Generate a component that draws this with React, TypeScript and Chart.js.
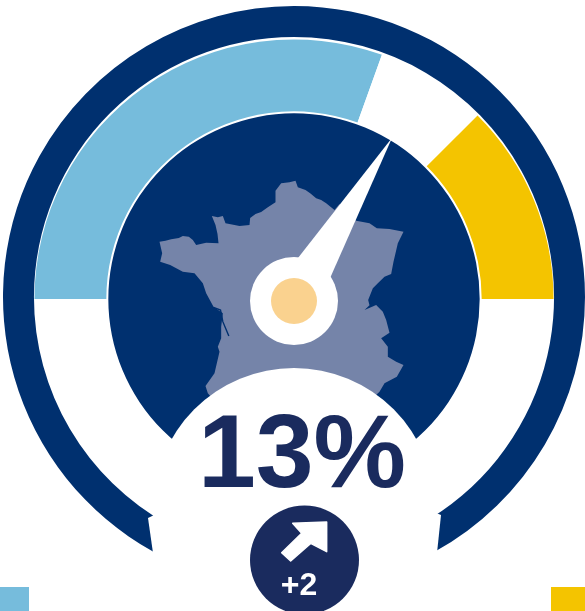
import React, { useEffect, useRef } from "react";
import { Chart, registerables } from "chart.js";

Chart.register(...registerables);

// Gauge values (share of the upper half-circle, left to right)
const bandLabels = ["Favorable", "Neutre", "Défavorable", "Bas"];
const bandValues = [61, 14, 25, 100];
const bandColors = ["#76BCDC", "#FFFFFF", "#F4C400", "rgba(0,0,0,0)"];
const needleShare = 67.4;
const headline = "13%";
const deltaLabel = "+2";

const NAVY = "#00306F";
const INK = "#1A2B5E";
const MAP = "#7584A9";

// France outline, traced in 1/3 px units relative to the illustration
const mapOutline: number[][] = [
  [60,335],[78,332],[95,328],[118,324],[130,318],[148,320],[160,330],[170,345],[200,338],[237,340],
  [234,312],[228,285],[217,258],[235,262],[250,258],[258,280],[285,285],[300,288],[330,285],[332,264],
  [348,252],[365,246],[385,232],[408,217],[408,182],[425,160],[450,157],[468,152],[475,172],[498,180],
  [512,190],[530,205],[545,210],[560,220],[585,240],[600,222],[625,250],[650,272],[690,280],[712,295],
  [750,297],[792,305],[775,340],[768,370],[762,395],[755,432],[735,440],[715,460],[700,475],[686,510],
  [690,526],[675,540],[710,525],[730,545],[740,570],[750,608],[725,625],[745,650],[745,680],[770,695],
  [792,705],[772,740],[735,760],[720,785],[600,900],[300,900],[205,790],[198,768],[225,730],[240,665],
  [235,650],[245,625],[245,590],[250,550],[222,530],[200,490],[190,460],[165,430],[130,425],[92,405],
  [62,395],[68,370],[60,335],
];
const estuary: number[][] = [[222,532],[243,540],[250,575],[268,618]];
const arrowShape: number[][] = [
  [68,40],[170,36],[170,125],[122,100],[62,153],[35,128],[95,70],
];

const ink = {
  id: "gaugeInk",
  beforeDatasetDraw(chart: any, args: any) {
    if (args.index === 0) {
      chart.ctx.save();
      chart.ctx.translate(0, -2);
    }
  },
  afterDatasetDraw(chart: any, args: any) {
    if (args.index === 0) chart.ctx.restore();
  },
  afterDatasetsDraw(chart: any) {
    const c = chart.ctx as CanvasRenderingContext2D;
    const disc = chart.getDatasetMeta(4).data[0];
    const cx: number = disc.x;
    const cy: number = disc.y;
    const path = (pts: number[][], ox: number, oy: number) => {
      c.beginPath();
      pts.forEach(([x, y], i) => {
        if (i === 0) c.moveTo(ox + x / 3, oy + y / 3);
        else c.lineTo(ox + x / 3, oy + y / 3);
      });
      c.closePath();
    };
    const circle = (x: number, y: number, r: number, col: string) => {
      c.beginPath();
      c.arc(x, y, r, 0, Math.PI * 2);
      c.fillStyle = col;
      c.fill();
    };
    c.save();

    // map
    path(mapOutline, cx - 154.5, cy - 169);
    c.fillStyle = MAP;
    c.fill();
    c.beginPath();
    estuary.forEach(([x, y], i) => {
      const px = cx - 154.5 + x / 3;
      const py = cy - 169 + y / 3;
      if (i === 0) c.moveTo(px, py);
      else c.lineTo(px, py);
    });
    c.strokeStyle = NAVY;
    c.lineWidth = 1.4;
    c.stroke();

    // needle
    const a = Math.PI * (1 - needleShare / 100);
    const tipR = disc.outerRadius + 3;
    const hx = cx;
    const hy = cy + 2;
    const tx = cx + Math.cos(a) * tipR;
    const ty = cy - Math.sin(a) * tipR;
    const nx = Math.sin(a);
    const ny = Math.cos(a);
    const base = 20;
    const mx = hx + Math.cos(a) * 30;
    const my = hy - Math.sin(a) * 30;
    c.beginPath();
    c.moveTo(tx, ty);
    c.lineTo(mx + nx * base, my + ny * base);
    c.lineTo(mx - nx * base, my - ny * base);
    c.closePath();
    c.fillStyle = "#FFFFFF";
    c.fill();
    circle(hx, hy, 44, "#FFFFFF");
    circle(hx, hy, 23, "#FAD28F");

    // lower white bite
    circle(cx, cy + 210, 141, "#FFFFFF");

    // squared-off ring ends
    c.fillStyle = "#FFFFFF";
    c.beginPath();
    c.moveTo(153, 553);
    c.lineTo(148, 518);
    c.lineTo(185, 500);
    c.lineTo(200, 570);
    c.closePath();
    c.fill();
    c.beginPath();
    c.moveTo(437, 553);
    c.lineTo(441, 515);
    c.lineTo(405, 500);
    c.lineTo(390, 570);
    c.closePath();
    c.fill();

    // headline
    c.fillStyle = INK;
    c.textAlign = "center";
    c.textBaseline = "alphabetic";
    c.font = 'bold 104px "Liberation Sans"';
    c.fillText(headline, 302, 487);

    // badge
    circle(304.5, 560, 54.5, INK);
    path(arrowShape, 270, 510);
    c.fillStyle = "#FFFFFF";
    c.strokeStyle = "#FFFFFF";
    c.lineWidth = 1.5;
    c.lineJoin = "round";
    c.fill();
    c.stroke();
    c.font = 'bold 32px "Liberation Sans"';
    c.fillText(deltaLabel, 299, 595);

    // legend swatches cut by the frame
    c.fillStyle = bandColors[0];
    c.fillRect(0, 587, 29, 24);
    c.fillStyle = bandColors[2];
    c.fillRect(551, 587, 34, 24);
    c.restore();
  },
};

export default function App() {
  const ref = useRef<HTMLCanvasElement>(null);
  useEffect(() => {
    document.body.style.margin = "0";
    document.body.style.background = "#FFFFFF";
    const chart = new Chart(ref.current as HTMLCanvasElement, {
      type: "doughnut",
      plugins: [ink],
      data: {
        labels: bandLabels,
        datasets: [
          { data: [1], backgroundColor: [NAVY], weight: 31, rotation: 209, circumference: 302 },
          { data: [1], backgroundColor: ["rgba(0,0,0,0)"], weight: 0.5 },
          { data: bandValues, backgroundColor: bandColors, weight: 72 },
          { data: [1], backgroundColor: ["rgba(0,0,0,0)"], weight: 2 },
          { data: [1], backgroundColor: [NAVY], weight: 186 },
        ],
      } as any,
      options: {
        responsive: false,
        animation: false,
        cutout: 0,
        rotation: -90,
        borderWidth: 0,
        layout: { padding: { left: 3, right: -1, top: 8, bottom: 21 } },
        plugins: { legend: { display: false }, tooltip: { enabled: false } },
      } as any,
    });
    return () => chart.destroy();
  }, []);
  return (
    <div style={{ position: "absolute", left: 0, top: 0, width: 585, height: 611, overflow: "hidden" }}>
      <canvas ref={ref} width={585} height={611} style={{ display: "block" }} />
    </div>
  );
}
